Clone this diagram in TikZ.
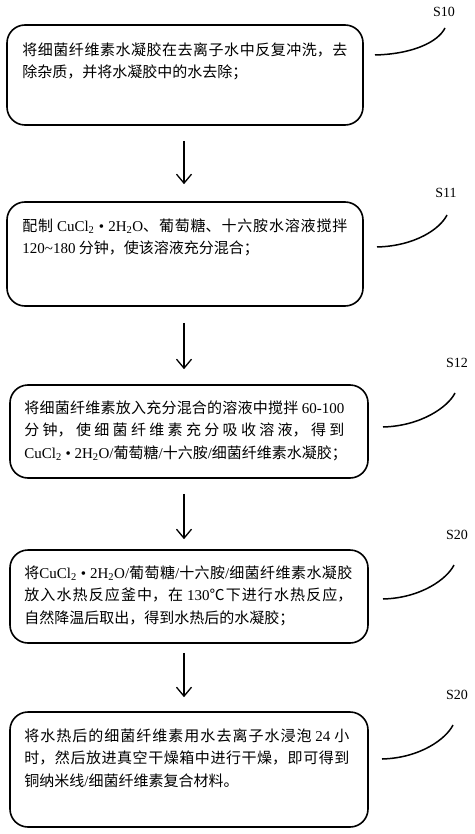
\documentclass[tikz,border=0pt]{standalone}
\usepackage{fontspec}
\setmainfont{Liberation Serif}
\newfontfamily\cjk{Noto Sans CJK SC}
\newfontfamily\latf{Liberation Serif}
\newcommand\tnr[1]{{\latf #1}}
\usetikzlibrary{arrows.meta,calc}
\XeTeXlinebreaklocale "zh"
\XeTeXlinebreakskip=0pt plus 3pt
\tikzset{
  stepbox/.style={draw, line width=1.6pt, rounded corners=18pt, inner sep=0pt},
  steptxt/.style={anchor=north west, inner sep=0pt, text width=#1, align=justify,
    font=\cjk\fontsize{15}{22.5}\selectfont},
  steplbl/.style={inner sep=0pt, font=\latf\fontsize{14}{16}\selectfont},
  flow/.style={line width=1.3pt, -{Straight Barb[length=9pt,width=15pt,line width=1.3pt]}},
  lead/.style={line width=1.5pt}
}
\begin{document}
\begin{tikzpicture}[x=1pt,y=-1pt]
\useasboundingbox (0,0) rectangle (474,834);
% boxes
\node[stepbox, minimum width=356pt, minimum height=100pt] (b1) at (185,75) {};
\node[stepbox, minimum width=356pt, minimum height=104pt] (b2) at (185,254) {};
\node[stepbox, minimum width=358pt, minimum height=93pt] (b3) at (189,431.5) {};
\node[stepbox, minimum width=358pt, minimum height=93pt] (b4) at (189,596.5) {};
\node[stepbox, minimum width=358pt, minimum height=115pt] (b5) at (189,769.5) {};
% texts
\node[steptxt=325pt] (t1) at ($(b1.north west)+(16,18)$) {将细菌纤维素水凝胶在去离子水中反复冲洗，去\linebreak 除杂质，并将水凝胶中的水去除；};
\node[steptxt=325pt] (t2) at ($(b2.north west)+(16,17)$) {配制 \tnr{CuCl\textsubscript{2} • 2H\textsubscript{2}O}、葡萄糖、十六胺水溶液搅拌\linebreak \tnr{120\textasciitilde 180} 分钟，使该溶液充分混合；};
\node[steptxt=320pt] (t3) at ($(b3.north west)+(15,16)$) {将细菌纤维素放入充分混合的溶液中搅拌 \tnr{60-100}\linebreak 分钟，使细菌纤维素充分吸收溶液，得到\linebreak \mbox{\tnr{CuCl\textsubscript{2} • 2H\textsubscript{2}O/}葡萄糖\tnr{/}十六胺\tnr{/}细菌纤维素水凝胶；}};
\node[steptxt=328pt] (t4) at ($(b4.north west)+(15,16)$) {将\tnr{CuCl\textsubscript{2} • 2H\textsubscript{2}O/}葡萄糖\tnr{/}十六胺\tnr{/}细菌纤维素水凝胶\linebreak 放入水热反应釜中，在 \tnr{130}℃下进行水热反应，\linebreak 自然降温后取出，得到水热后的水凝胶；};
\node[steptxt=325pt] (t5) at ($(b5.north west)+(15,17)$) {将水热后的细菌纤维素用水去离子水浸泡 \tnr{24} 小\linebreak 时，然后放进真空干燥箱中进行干燥，即可得到\linebreak 铜纳米线\tnr{/}细菌纤维素复合材料。};
% labels
\node[steplbl] (l1) at (444,12) {S10};
\node[steplbl] (l2) at (446,193) {S11};
\node[steplbl] (l3) at (457,363) {S12};
\node[steplbl] (l4) at (457,535) {S20};
\node[steplbl] (l5) at (457,695) {S20};
% leader ends
\coordinate (p1) at (375,55);  \coordinate (q1) at (445,28);
\coordinate (p2) at (377,247); \coordinate (q2) at (447,215);
\coordinate (p3) at (383,427); \coordinate (q3) at (455,393);
\coordinate (p4) at (383,599); \coordinate (q4) at (454,565);
\coordinate (p5) at (382,759); \coordinate (q5) at (453,725);
\foreach \i in {1,...,5}{
  \draw[lead] (p\i) .. controls +(38,-1) and +(-7,14) .. (q\i);
}
% arrows
\draw[flow] ($(b1.south)+(-1,15)$) -- ($(b2.north)+(-1,-17)$);
\draw[flow] ($(b2.south)+(-1,16)$) -- ($(b3.north)+(-5,-15)$);
\draw[flow] ($(b3.south)+(-5,15)$) -- ($(b4.north)+(-5,-10)$);
\draw[flow] ($(b4.south)+(-5,9)$) -- ($(b5.north)+(-5,-14)$);
\end{tikzpicture}
\end{document}
